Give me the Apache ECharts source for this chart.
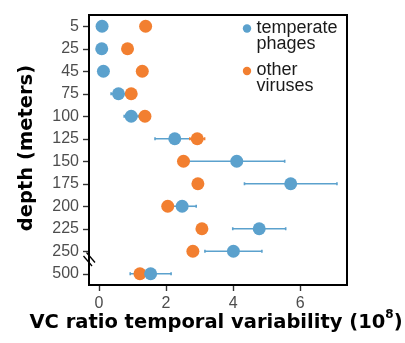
<!DOCTYPE html>
<html>
<head>
<meta charset="utf-8">
<script src="https://cdn.jsdelivr.net/npm/echarts@6/dist/echarts.min.js"></script>
<style>html,body{margin:0;padding:0;background:#fff;}#c{width:405px;height:343px;}</style>
</head>
<body>
<div id="c"></div>
<script>
// depth categories (meters)
var depths = ['5', '25', '45', '75', '100', '125', '150', '175', '200', '225', '250', '500'];
// VC ratio temporal variability (10^8)
var temperate = [0.09, 0.08, 0.13, 0.58, 0.96, 2.26, 4.11, 5.72, 2.48, 4.78, 4.01, 1.54];
var temperateErr = [0, 0, 0, 0.22, 0.21, 0.59, 1.43, 1.38, 0.42, 0.79, 0.85, 0.61];
var other = [1.39, 0.85, 1.29, 0.96, 1.37, 2.93, 2.52, 2.95, 2.05, 3.07, 2.80, 1.22];
var otherErr = [0, 0, 0, 0, 0, 0.22, 0, 0, 0, 0, 0, 0];
var xTicks = [0, 2, 4, 6];
var seriesNames = ['temperate\nphages', 'other\nviruses'];

var BLUE = '#5ba1cd';
var ORANGE = '#f27f30';
var TICK = '#333';
var GRID = { left: 89, top: 15, width: 258, height: 270 };
var XMIN = -0.3, XMAX = 7.4;

function pts(vals) { return vals.map(function (v, i) { return [v, depths[i]]; }); }
function errs(vals, e) {
  var out = [];
  vals.forEach(function (v, i) { if (e[i] > 0) out.push([depths[i], v - e[i], v + e[i]]); });
  return out;
}
function errRender(color) {
  return function (params, api) {
    var lo = api.coord([api.value(1), api.value(0)]);
    var hi = api.coord([api.value(2), api.value(0)]);
    var st = { stroke: color, lineWidth: 1.6 };
    return {
      type: 'group',
      children: [
        { type: 'line', shape: { x1: lo[0], y1: lo[1], x2: hi[0], y2: hi[1] }, style: st },
        { type: 'line', shape: { x1: lo[0], y1: lo[1] - 1.5, x2: lo[0], y2: lo[1] + 1.5 }, style: st },
        { type: 'line', shape: { x1: hi[0], y1: hi[1] - 1.5, x2: hi[0], y2: hi[1] + 1.5 }, style: st }
      ]
    };
  };
}

var baseGraphic = [
  // legend
  { type: 'circle', shape: { cx: 247, cy: 28.5, r: 4.2 }, style: { fill: BLUE }, z: 10 },
  { type: 'text', x: 256.5, y: 20, style: { text: seriesNames[0], fontFamily: 'Liberation Sans', fontSize: 18, fill: '#1a1a1a', lineHeight: 16, verticalAlign: 'top', textVerticalAlign: 'top' }, z: 10 },
  { type: 'circle', shape: { cx: 247, cy: 71, r: 4.2 }, style: { fill: ORANGE }, z: 10 },
  { type: 'text', x: 256.5, y: 62.5, style: { text: seriesNames[1], fontFamily: 'Liberation Sans', fontSize: 18, fill: '#1a1a1a', lineHeight: 16, verticalAlign: 'top', textVerticalAlign: 'top' }, z: 10 },
  // axis break marks
  { type: 'line', shape: { x1: 83.5, y1: 256, x2: 92, y2: 266 }, style: { stroke: '#000', lineWidth: 1.3 }, z: 10 },
  { type: 'line', shape: { x1: 86.5, y1: 252.5, x2: 95, y2: 262.5 }, style: { stroke: '#000', lineWidth: 1.3 }, z: 10 },
  // axis titles
  {
    type: 'text', x: 216, y: 321,
    style: {
      text: '{m|VC ratio temporal variability (10}{s|8}{m|)}',
      align: 'center', verticalAlign: 'middle',
      textAlign: 'center', textVerticalAlign: 'middle',
      rich: {
        m: { fontFamily: 'DejaVu Sans', fontWeight: 'bold', fontSize: 19.5, color: '#000', lineHeight: 24, verticalAlign: 'bottom' },
        s: { fontFamily: 'DejaVu Sans', fontWeight: 'bold', fontSize: 12, color: '#000', lineHeight: 14, verticalAlign: 'top' }
      }
    }, z: 10
  },
  {
    type: 'text', x: 27, y: 148, rotation: Math.PI / 2,
    style: { text: 'depth (meters)', fontFamily: 'DejaVu Sans', fontWeight: 'bold', fontSize: 19.5, fill: '#000', align: 'center', verticalAlign: 'middle', textAlign: 'center', textVerticalAlign: 'middle' }, z: 10
  }
];

var chart = echarts.init(document.getElementById('c'), null, { renderer: 'canvas' });
chart.setOption({
  animation: false,
  backgroundColor: '#fff',
  grid: {
    left: GRID.left, top: GRID.top, width: GRID.width, height: GRID.height,
    show: true, borderColor: '#000', borderWidth: 2, backgroundColor: 'transparent'
  },
  xAxis: {
    type: 'value', min: XMIN, max: XMAX,
    axisLine: { show: false, onZero: false },
    splitLine: { show: false },
    axisTick: { show: false },
    axisLabel: { customValues: xTicks, fontFamily: 'Liberation Sans', fontSize: 16, color: '#4d4d4d', margin: 11 }
  },
  yAxis: {
    type: 'category', data: depths, inverse: true, boundaryGap: true,
    axisLine: { show: false, onZero: false },
    splitLine: { show: false },
    axisTick: { show: false },
    axisLabel: { interval: 0, fontFamily: 'Liberation Sans', fontSize: 16, color: '#4d4d4d', margin: 10 }
  },
  series: [
    {
      type: 'custom', name: 'terr', renderItem: errRender(BLUE), data: errs(temperate, temperateErr),
      dimensions: ['depth', 'lo', 'hi'], encode: { y: 0, x: [1, 2] }, z: 1, silent: true
    },
    {
      type: 'custom', name: 'oerr', renderItem: errRender(ORANGE), data: errs(other, otherErr),
      dimensions: ['depth', 'lo', 'hi'], encode: { y: 0, x: [1, 2] }, z: 1, silent: true
    },
    { type: 'scatter', name: seriesNames[1], data: pts(other), symbolSize: 13, itemStyle: { color: ORANGE, opacity: 1 }, z: 2 },
    { type: 'scatter', name: seriesNames[0], data: pts(temperate), symbolSize: 13, itemStyle: { color: BLUE, opacity: 1 }, z: 3 }
  ],
  graphic: baseGraphic
});

// tick marks positioned through the axes' scales
function toNum(v) { if (Array.isArray(v)) v = v[0]; return Number(v); }
var tickGraphic = [];
xTicks.forEach(function (t) {
  var px = NaN;
  try { px = toNum(chart.convertToPixel({ xAxisIndex: 0 }, t)); } catch (e) {}
  if (!isFinite(px)) px = GRID.left + (t - XMIN) / (XMAX - XMIN) * GRID.width;
  px = Math.round(px) + 0.5;
  tickGraphic.push({ type: 'line', shape: { x1: px, y1: GRID.top + GRID.height + 1, x2: px, y2: GRID.top + GRID.height + 6 }, style: { stroke: TICK, lineWidth: 1.4 }, z: 20 });
});
depths.forEach(function (d, i) {
  var py = NaN;
  try { py = toNum(chart.convertToPixel({ yAxisIndex: 0 }, d)); } catch (e) {}
  if (!isFinite(py)) py = GRID.top + (i + 0.5) * GRID.height / depths.length;
  py = Math.round(py) + 0.5;
  tickGraphic.push({ type: 'line', shape: { x1: GRID.left - 6, y1: py, x2: GRID.left - 1, y2: py }, style: { stroke: TICK, lineWidth: 1.4 }, z: 20 });
});
chart.setOption({ graphic: baseGraphic.concat(tickGraphic) });
</script>
</body>
</html>
